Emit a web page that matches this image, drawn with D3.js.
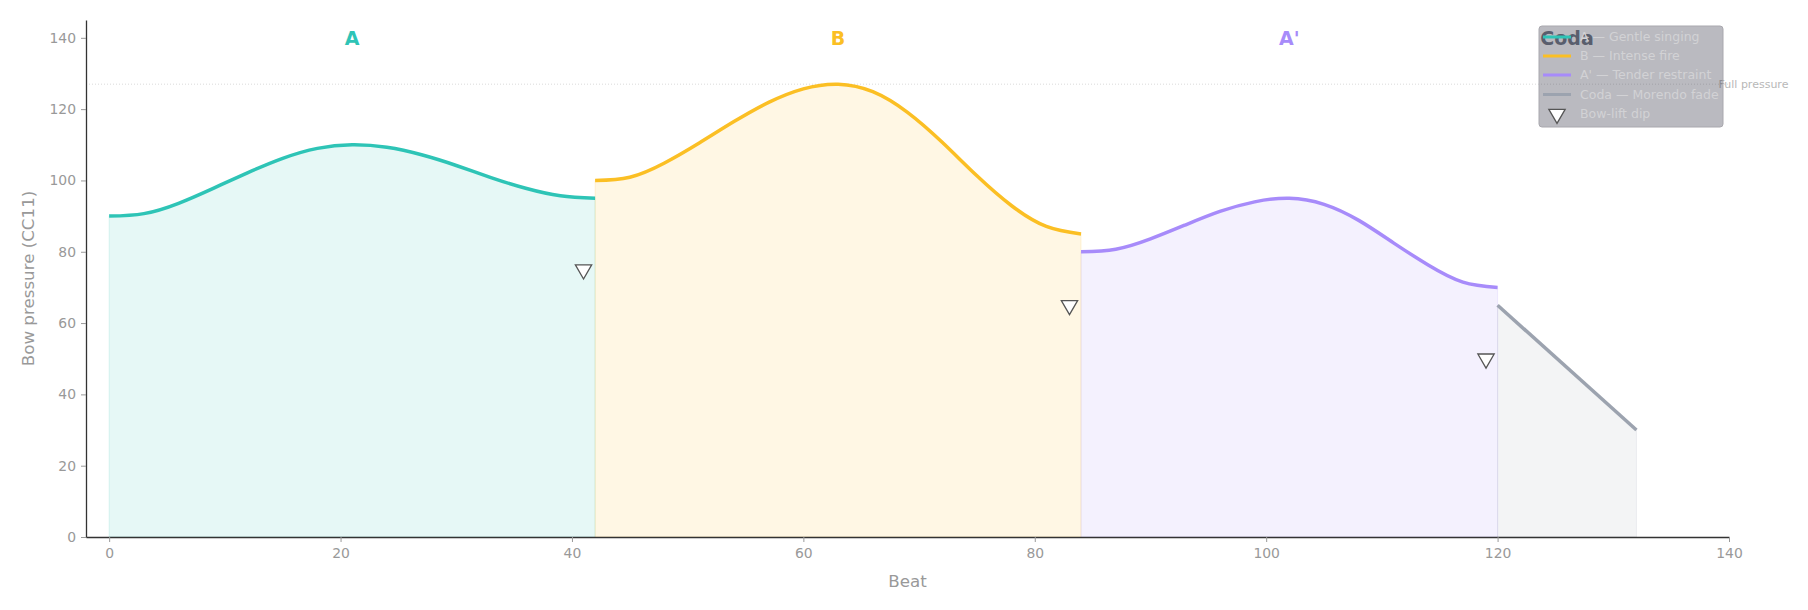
<!DOCTYPE html>
<html>
<head>
<meta charset="utf-8">
<script src="https://cdn.jsdelivr.net/npm/d3@7"></script>
<style>
  html, body { margin: 0; padding: 0; background: #fff; }
  svg { display: block; font-family: "DejaVu Sans", sans-serif; }
</style>
</head>
<body>
<div id="viz"></div>
<script>
// section A — gentle singing
const beatsA = [0, 3, 6, 9, 12, 15, 18, 21, 24, 27, 30, 33, 36, 39, 42]
const pressureA = [90, 90.7, 93.6, 97.8, 102.2, 106.2, 109, 110, 109.3, 107.2, 104.2, 100.8, 97.8, 95.7, 95]

// section B — intense fire
const beatsB = [42, 45, 48, 51, 54, 57, 60, 63, 66, 69, 72, 75, 78, 81, 84]
const pressureB = [100, 100.9, 104.9, 110.5, 116.5, 121.9, 125.7, 127, 124.9, 119.1, 110.7, 101.3, 92.9, 87.1, 85]

// section A' — tender restraint
const beatsA2 = [84, 87, 90, 93, 96, 99, 102, 105, 108, 111, 114, 117, 120]
const pressureA2 = [80, 80.7, 83.6, 87.5, 91.3, 94, 95, 93.3, 88.8, 82.5, 76.3, 71.5, 70]

// coda — morendo fade
const beatsCoda = [120, 132]
const pressureCoda = [65, 30]

// bow-lift dips
const dipBeats = [41, 83, 119]
const dipPressure = [75, 65, 50]

const sectionNames = ['A', 'B', "A'", 'Coda']
const sectionLabels = ['A — Gentle singing', 'B — Intense fire', "A' — Tender restraint", 'Coda — Morendo fade']
const sectionLabelBeats = [21, 63, 102, 126]
const sectionColors = ['#2ec4b6', '#fbbf24', '#a78bfa', '#9ca3af']
const sectionLabelColors = ['#2ec4b6', '#fbbf24', '#a78bfa', '#6b7280']

const fullPressure = 127
const xTicks = [0, 20, 40, 60, 80, 100, 120, 140]
const yTicks = [0, 20, 40, 60, 80, 100, 120, 140]

const W = 1808, H = 610
const margin = { top: 20, right: 79, bottom: 73, left: 86 }
const width = W - margin.left - margin.right
const height = H - margin.top - margin.bottom

const svg = d3.select('#viz').append('svg')
  .attr('width', W)
  .attr('height', H)

const g = svg.append('g')
  .attr('transform', 'translate(' + margin.left + ',' + margin.top + ')')

const x = d3.scaleLinear().domain([-2, 140]).range([0, width])
const y = d3.scaleLinear().domain([0, 145]).range([height, 0])

const sections = [
  [beatsA, pressureA],
  [beatsB, pressureB],
  [beatsA2, pressureA2],
  [beatsCoda, pressureCoda]
].map(function(s, i) {
  return {
    name: sectionNames[i],
    color: sectionColors[i],
    points: s[0].map(function(b, j) { return { beat: b, value: s[1][j] } })
  }
})

// full pressure reference
g.append('line')
  .attr('x1', 0).attr('x2', width)
  .attr('y1', y(fullPressure)).attr('y2', y(fullPressure))
  .attr('stroke', '#d2d2d2')
  .attr('stroke-width', 0.8)
  .attr('stroke-dasharray', '1,2')

g.append('text')
  .attr('x', x(139.1))
  .attr('y', y(fullPressure))
  .attr('dy', '0.35em')
  .attr('font-size', 11)
  .attr('fill', '#b8b8b8')
  .text('Full pressure')

const area = d3.area()
  .x(function(d) { return x(d.beat) })
  .y0(y(0))
  .y1(function(d) { return y(d.value) })
  .curve(d3.curveNatural)

const line = d3.line()
  .x(function(d) { return x(d.beat) })
  .y(function(d) { return y(d.value) })
  .curve(d3.curveNatural)

// filled areas
g.selectAll('.area')
  .data(sections)
  .enter()
  .append('path')
  .attr('d', function(d) { return area(d.points) })
  .attr('fill', function(d) { return d.color })
  .attr('fill-opacity', 0.12)
  .attr('stroke', function(d) { return d.color })
  .attr('stroke-opacity', 0.15)
  .attr('stroke-width', 1)

// lines
g.selectAll('.curve')
  .data(sections)
  .enter()
  .append('path')
  .attr('d', function(d) { return line(d.points) })
  .attr('fill', 'none')
  .attr('stroke', function(d) { return d.color })
  .attr('stroke-width', 3.5)

// dips
const tri = d3.symbol().type(d3.symbolTriangle).size(115)
g.selectAll('.dip')
  .data(dipBeats)
  .enter()
  .append('path')
  .attr('d', tri)
  .attr('transform', function(d, i) {
    return 'translate(' + x(d) + ',' + y(dipPressure[i]) + ') rotate(180)'
  })
  .attr('fill', '#fff')
  .attr('stroke', '#555')
  .attr('stroke-width', 1.3)

// section labels
g.selectAll('.seclabel')
  .data(sectionNames)
  .enter()
  .append('text')
  .attr('x', function(d, i) { return x(sectionLabelBeats[i]) })
  .attr('y', y(140))
  .attr('dy', '0.36em')
  .attr('text-anchor', 'middle')
  .attr('font-size', 19)
  .attr('font-weight', 'bold')
  .attr('fill', function(d, i) { return sectionLabelColors[i] })
  .text(function(d) { return d })

// axes
const xAxis = g.append('g')
  .attr('transform', 'translate(0,' + height + ')')
  .call(d3.axisBottom(x).tickValues(xTicks).tickSize(5).tickSizeOuter(0).tickPadding(6))
const yAxis = g.append('g')
  .call(d3.axisLeft(y).tickValues(yTicks).tickSize(5).tickSizeOuter(0).tickPadding(5))

;[xAxis, yAxis].forEach(function(a) {
  a.select('.domain').attr('stroke', '#333').attr('stroke-width', 1.3)
  a.selectAll('.tick line').attr('stroke', '#999')
  a.selectAll('.tick text')
    .attr('fill', '#999')
    .attr('font-size', 13.9)
    .attr('font-family', '"DejaVu Sans", sans-serif')
})

g.append('text')
  .attr('x', width / 2)
  .attr('y', height + 50)
  .attr('text-anchor', 'middle')
  .attr('font-size', 16.7)
  .attr('fill', '#999')
  .text('Beat')

g.append('text')
  .attr('transform', 'translate(' + (28 - margin.left) + ',' + height / 2 + ') rotate(-90)')
  .attr('text-anchor', 'middle')
  .attr('dy', '0.35em')
  .attr('font-size', 16.7)
  .attr('fill', '#999')
  .text('Bow pressure (CC11)')

// legend
const legend = svg.append('g').attr('transform', 'translate(1539,26)')
legend.append('rect')
  .attr('width', 184)
  .attr('height', 101)
  .attr('rx', 3)
  .attr('fill', '#3a3a4a')
  .attr('fill-opacity', 0.35)
  .attr('stroke', '#a9a8ae')
  .attr('stroke-width', 1)

const rowY = [11, 30, 49, 68.5, 88]
sectionLabels.forEach(function(lbl, i) {
  legend.append('line')
    .attr('x1', 4).attr('x2', 32)
    .attr('y1', rowY[i]).attr('y2', rowY[i])
    .attr('stroke', sectionColors[i])
    .attr('stroke-width', 3)
  legend.append('text')
    .attr('x', 41)
    .attr('y', rowY[i])
    .attr('dy', '0.35em')
    .attr('font-size', 12.5)
    .attr('fill', '#d2d2d5')
    .text(lbl)
})
legend.append('path')
  .attr('d', tri)
  .attr('transform', 'translate(18,' + rowY[4] + ') rotate(180)')
  .attr('fill', '#fff')
  .attr('stroke', '#555')
  .attr('stroke-width', 1.3)
legend.append('text')
  .attr('x', 41)
  .attr('y', rowY[4])
  .attr('dy', '0.35em')
  .attr('font-size', 12.5)
  .attr('fill', '#d2d2d5')
  .text('Bow-lift dip')
</script>
</body>
</html>
